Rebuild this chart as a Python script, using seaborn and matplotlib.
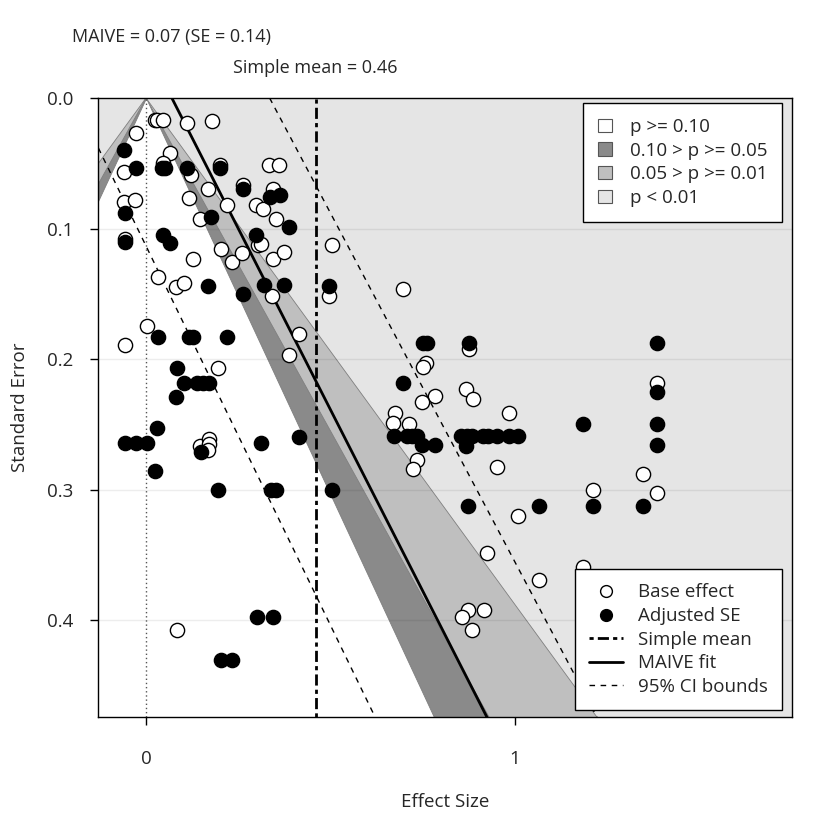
"""Funnel plot with MAIVE fit and significance contours."""

import matplotlib.pyplot as plt
import matplotlib.transforms as mtransforms
import numpy as np
import pandas as pd
import seaborn as sns
from matplotlib.lines import Line2D
from matplotlib.patches import Patch

# base effects (open circles)
BASE_EFFECT = [
    0.024, 0.030, 0.046, 0.111, 0.179, -0.027, 0.065, 0.046, -0.060, 0.122,
    0.200, 0.168, 0.263, 0.333, 0.360, 0.344, 0.220, 0.298, 0.317, 0.352,
    -0.060, -0.030, 0.117, 0.146, -0.057, 0.127, 0.203, 0.233, 0.260, 0.303,
    0.312, 0.344, 0.374, 0.504, 0.033, 0.081, 0.103, 0.341, 0.496, 0.003,
    -0.057, 0.415, 0.388, 0.195, 0.146, 0.171, 0.171, 0.168, 0.084, 0.924,
    0.873, 0.856, 0.916, 0.883, 0.696, 0.875, 0.759, 0.751, 0.783, 0.748,
    0.867, 0.886, 0.984, 0.675, 0.669, 0.713, 0.734, 0.724, 0.951, 1.385,
    1.347, 1.211, 1.385, 1.008, 1.065, 1.184,
]
BASE_SE = [
    0.017, 0.017, 0.017, 0.019, 0.018, 0.027, 0.042, 0.050, 0.057, 0.059,
    0.051, 0.070, 0.067, 0.051, 0.051, 0.070, 0.082, 0.082, 0.085, 0.093,
    0.080, 0.078, 0.077, 0.093, 0.108, 0.123, 0.116, 0.126, 0.119, 0.113,
    0.112, 0.123, 0.118, 0.113, 0.137, 0.145, 0.142, 0.152, 0.152, 0.175,
    0.189, 0.181, 0.197, 0.207, 0.267, 0.261, 0.265, 0.270, 0.408, 0.349,
    0.392, 0.398, 0.392, 0.408, 0.146, 0.192, 0.203, 0.206, 0.228, 0.233,
    0.223, 0.231, 0.241, 0.241, 0.249, 0.250, 0.277, 0.284, 0.283, 0.218,
    0.288, 0.300, 0.303, 0.320, 0.369, 0.359,
]

# adjusted-SE estimates (filled circles)
ADJ_EFFECT = [
    -0.060, 0.043, 0.052, -0.027, 0.111, 0.200, 0.263, 0.336, 0.363, 0.388,
    -0.057, 0.176, -0.057, 0.046, 0.065, 0.298, 0.168, 0.320, 0.374, 0.496,
    0.263, 0.033, 0.117, 0.127, 0.220, 0.084, 0.103, 0.138, 0.154, 0.171,
    0.081, 0.030, -0.057, -0.027, 0.003, 0.149, 0.312, 0.415, 0.024, 0.195,
    0.339, 0.352, 0.504, 0.301, 0.344, 0.203, 0.233, 0.873, 0.751, 0.762,
    0.875, 1.385, 0.696, 0.672, 0.707, 0.721, 0.734, 0.748, 0.783, 0.854,
    0.870, 0.883, 0.913, 0.927, 0.951, 0.984, 1.008, 0.867, 1.184, 1.385,
    1.385, 1.385, 1.065, 1.211, 1.347,
]
ADJ_SE = [
    0.040, 0.054, 0.054, 0.054, 0.054, 0.054, 0.070, 0.076, 0.074, 0.099,
    0.088, 0.091, 0.110, 0.105, 0.111, 0.105, 0.144, 0.143, 0.143, 0.144,
    0.150, 0.183, 0.183, 0.183, 0.183, 0.207, 0.218, 0.218, 0.218, 0.218,
    0.229, 0.253, 0.264, 0.264, 0.264, 0.271, 0.264, 0.260, 0.286, 0.300,
    0.300, 0.300, 0.300, 0.398, 0.398, 0.431, 0.431, 0.313, 0.188, 0.188,
    0.188, 0.188, 0.218, 0.259, 0.259, 0.259, 0.259, 0.266, 0.266, 0.259,
    0.259, 0.259, 0.259, 0.259, 0.259, 0.259, 0.259, 0.267, 0.250, 0.250,
    0.266, 0.225, 0.313, 0.313, 0.313,
]

MAIVE_EST = 0.07
MAIVE_SE = 0.14
MAIVE_SLOPE = 1.80
CI_LOW = (-0.195, 1.72)
CI_HIGH = (0.335, 1.87)
SIMPLE_MEAN = 0.46

Z_CUTS = [2.576, 1.96, 1.645]
CONTOUR_LABELS = ["p >= 0.10", "0.10 > p >= 0.05", "0.05 > p >= 0.01", "p < 0.01"]
SERIES_LABELS = ["Base effect", "Adjusted SE", "Simple mean", "MAIVE fit", "95% CI bounds"]
WHITE, DARK, MID, LIGHT = "#ffffff", "#8a8a8a", "#bfbfbf", "#e5e5e5"

X_LIM = (-0.1301, 1.7507)
Y_LIM = (0.4743, 0.0)
FS = 13.5

sns.set_theme(style="white")
plt.rcParams["font.family"] = ["Open Sans", "DejaVu Sans"]
plt.rcParams["font.size"] = FS

fig = plt.figure(figsize=(8.4, 8.4), dpi=100)
ax = fig.add_axes([98 / 840, 1 - 717 / 840, 694 / 840, 619 / 840])
ax.set_facecolor(LIGHT)

# significance contours centred at zero
se_grid = np.array([0.0, 0.6])
for z, fill in zip(Z_CUTS, [MID, DARK, WHITE]):
    ax.fill_betweenx(se_grid, -z * se_grid, z * se_grid, facecolor=fill,
                     edgecolor="#7f7f7f", linewidth=0.6, zorder=1)

for tick in [0.1, 0.2, 0.3, 0.4]:
    ax.axhline(tick, color="black", alpha=0.07, linewidth=1, zorder=1.5)

ax.axvline(0, color="#555555", linestyle=(0, (1, 2)), linewidth=1, zorder=2)
ax.axvline(SIMPLE_MEAN, color="black", linestyle=(0, (1.5, 1.5, 4, 1.5)), linewidth=2, zorder=2)

se_line = np.array([0.0, 0.5])
ax.plot(MAIVE_EST + MAIVE_SLOPE * se_line, se_line, color="black", linewidth=2, zorder=2)
for b0, b1 in (CI_LOW, CI_HIGH):
    ax.plot(b0 + b1 * se_line, se_line, color="black", linewidth=1, linestyle=(0, (4, 4)), zorder=2)

base = pd.DataFrame({"effect": BASE_EFFECT, "se": BASE_SE})
adj = pd.DataFrame({"effect": ADJ_EFFECT, "se": ADJ_SE})
sns.scatterplot(data=base, x="effect", y="se", ax=ax, s=105, color="white",
                edgecolor="black", linewidth=1, zorder=3)
sns.scatterplot(data=adj, x="effect", y="se", ax=ax, s=105, color="black",
                edgecolor="black", linewidth=1, zorder=3)

ax.set_xlim(X_LIM)
ax.set_ylim(Y_LIM)
ax.set_xticks([0, 1])
ax.set_xticklabels(["0", "1"])
ax.set_yticks([0.0, 0.1, 0.2, 0.3, 0.4])
ax.set_yticklabels(["0.0", "0.1", "0.2", "0.3", "0.4"])
ax.tick_params(axis="both", direction="out", length=6, width=1, color="black",
               labelsize=FS, left=True, bottom=True)
ax.tick_params(axis="x", pad=18)
ax.tick_params(axis="y", pad=12)
ax.set_xlabel("Effect Size", fontsize=FS, labelpad=18)
ax.set_ylabel("Standard Error", fontsize=FS, labelpad=13)
for spine in ax.spines.values():
    spine.set_color("black")
    spine.set_linewidth(1)

trans = mtransforms.blended_transform_factory(ax.transData, ax.transAxes)
ax.text(MAIVE_EST, 1.0985, f"MAIVE = {MAIVE_EST:.2f} (SE = {MAIVE_SE:.2f})",
        transform=trans, ha="center", va="center", fontsize=13)
ax.text(SIMPLE_MEAN, 1.0485, f"Simple mean = {SIMPLE_MEAN:.2f}",
        transform=trans, ha="center", va="center", fontsize=13)

contour_handles = [Patch(facecolor=c, edgecolor="#555555", linewidth=0.8)
                   for c in [WHITE, DARK, MID, LIGHT]]
leg1 = ax.legend(contour_handles, CONTOUR_LABELS, loc="upper right",
                 bbox_to_anchor=(1 - 10 / 694, 1 - 5 / 619), borderaxespad=0, fontsize=FS,
                 handlelength=0.72, handleheight=0.72, labelspacing=0.3,
                 borderpad=0.8, handletextpad=0.95, fancybox=False, framealpha=1,
                 edgecolor="black", facecolor="white")
leg1.get_frame().set_linewidth(1)
leg1.set_zorder(5)
ax.add_artist(leg1)

series_handles = [
    Line2D([], [], marker="o", linestyle="none", markerfacecolor="white",
           markeredgecolor="black", markersize=8.5),
    Line2D([], [], marker="o", linestyle="none", markerfacecolor="black",
           markeredgecolor="black", markersize=8.5),
    Line2D([], [], color="black", linewidth=2, linestyle=(0, (1.5, 1.5, 4, 1.5))),
    Line2D([], [], color="black", linewidth=2),
    Line2D([], [], color="black", linewidth=1, linestyle=(0, (4, 4))),
]
leg2 = ax.legend(series_handles, SERIES_LABELS,
                 loc="lower right", bbox_to_anchor=(1 - 10 / 694, 7 / 619), borderaxespad=0,
                 fontsize=FS, handlelength=1.8, labelspacing=0.3, borderpad=0.75,
                 handletextpad=0.8, fancybox=False, framealpha=1, edgecolor="black",
                 facecolor="white")
leg2.get_frame().set_linewidth(1)
leg2.set_zorder(5)

fig.savefig("out.png", dpi=100, facecolor="white")
